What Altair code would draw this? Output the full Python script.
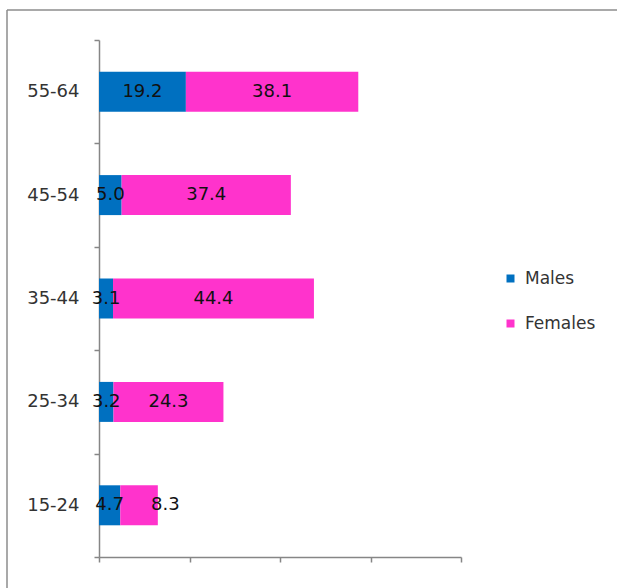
import altair as alt
import pandas as pd

ages = ["15-24", "25-34", "35-44", "45-54", "55-64"]
males = [4.7, 3.2, 3.1, 5.0, 19.2]
females = [8.3, 24.3, 44.4, 37.4, 38.1]
series = ["Males", "Females"]
colors = ["#0070C0", "#FF33CC"]

rows = []
for i, a in enumerate(ages):
    rows.append({"age": a, "series": "Males", "value": males[i], "ord": 0})
    rows.append({"age": a, "series": "Females", "value": females[i], "ord": 1})
df = pd.DataFrame(rows)

FONT = "DejaVu Sans"
AXC = "#868686"
order_top = list(reversed(ages))

# Excel nudges a short label that would collide with its neighbour
base = alt.Chart(df).transform_stack(
    stack="value", as_=["x0", "x1"], groupby=["age"], sort=[alt.SortField("ord")]
).transform_calculate(
    mid="(datum.x0 + datum.x1) / 2 + ((datum.series == 'Females' && datum.value < 10) ? 5.8 : 0)"
)

yenc = alt.Y("age:N", sort=order_top, title=None,
             scale=alt.Scale(paddingInner=0, paddingOuter=0),
             axis=alt.Axis(tickBand="extent", labelFont=FONT, labelFontSize=18,
                           labelColor="#333333", labelPadding=15, tickSize=5,
                           domainColor=AXC, tickColor=AXC,
                           domainWidth=1.5, tickWidth=1.5))

bars = base.mark_bar(size=40).encode(
    x=alt.X("x0:Q", title=None,
            scale=alt.Scale(domain=[0, 80], nice=False),
            axis=alt.Axis(values=[0, 20, 40, 60, 80], labels=False, grid=False,
                          tickSize=5, domainColor=AXC, tickColor=AXC,
                          domainWidth=1.5, tickWidth=1.5)),
    x2="x1:Q",
    y=yenc,
    color=alt.Color("series:N", scale=alt.Scale(domain=series, range=colors),
                    legend=alt.Legend(title=None, orient="none", legendX=403, legendY=230,
                                      symbolType="square", symbolSize=64, symbolStrokeWidth=0,
                                      labelFont=FONT, labelFontSize=17, labelColor="#333333",
                                      rowPadding=27, labelOffset=6, padding=0)),
)

labels = base.mark_text(font=FONT, fontSize=18, color="#111111").encode(
    x="mid:Q",
    y=alt.Y("age:N", sort=order_top),
    text=alt.Text("value:Q", format=".1f"),
)

one = pd.DataFrame({"k": [0]})
frame_left = alt.Chart(one).mark_rule(stroke="#8c8c8c", strokeWidth=1.5).encode(
    x=alt.value(-92), y=alt.value(-30), y2=alt.value(548)
)
frame_top = alt.Chart(one).mark_rule(stroke="#8c8c8c", strokeWidth=1.5).encode(
    x=alt.value(-92), x2=alt.value(518), y=alt.value(-30)
)

chart = alt.layer(frame_left, frame_top, bars, labels).properties(
    width=362, height=517,
    background="white",
    autosize=alt.AutoSizeParams(type="none"),
    padding={"left": 99, "top": 40, "right": 156, "bottom": 31},
).configure_view(stroke=None)

chart.save("out.html", embed_options={"renderer": "svg", "actions": False})
